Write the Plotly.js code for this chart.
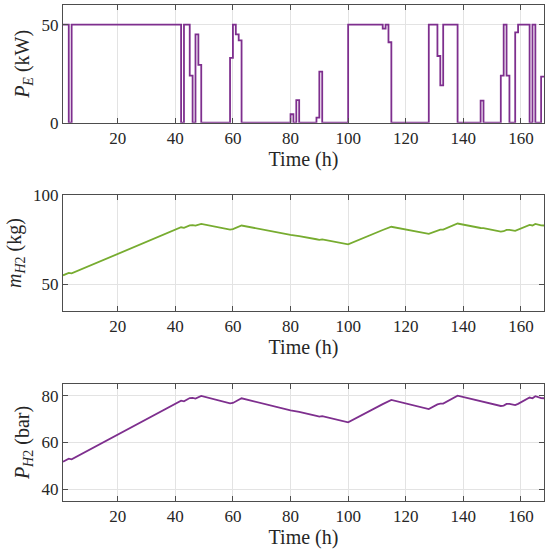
<!DOCTYPE html>
<html>
<head>
<meta charset="utf-8">
<script src="https://cdn.plot.ly/plotly-3.0.1.min.js"></script>
<style>html,body{margin:0;padding:0;background:#fff;}#chart{width:550px;height:556px;}</style>
</head>
<body>
<div id="chart"></div>
<script>
// Electrolyzer power P_E (kW), hourly values for hours 1..168 (step plot)
const PE = [50,50,0,
  50,50,50,50,50,50,50,50,50,50, 50,50,50,50,50,50,50,50,50,50,
  50,50,50,50,50,50,50,50,50,50, 50,50,50,50,50,50,50,50,
  0,50,50,24,0,45,29.5,
  0,0,0,0,0,0,0,0,0,0,
  33,50,45,42,
  0,0,0,0,0,0,0,0,0,0,0,0,0,0,0,0,0,
  4.3,0,11.5,
  0,0,0,0,0,0,
  2.6,26,
  0,0,0,0,0,0,0,0,0,
  50,50,50,50,50,50,50,50,50,50,50,50,
  48,50,41,
  0,0,0,0,0,0,0,0,0,0,0,0,0,
  50,50,50,34,19,50,50,50,50,50,
  0,0,0,0,0,0,0,0,
  11.3,
  0,0,0,0,0,0,
  24,50,24,0,0,46,50,50,50,50,0,50,0,0,23.5,23.5];
const hours = Array.from({length: PE.length}, (_, i) => i + 1);

// Hydrogen mass m_H2 (kg) and pressure P_H2 (bar) at breakpoints (h)
const tH2 = [1,3,4,42,43,45,46,47,49,59,60,63,80,81,82,83,89,90,91,100,112,113,114,115,128,131,132,133,138,146,147,153,154,155,156,158,159,163,164,165,167,168];
const mH2 = [55.0,56.4,56.1,81.9,81.6,83.0,83.1,82.8,83.8,80.6,80.9,82.9,77.6,77.4,77.1,77.0,75.2,74.9,75.1,72.3,80.4,81.0,81.7,82.2,78.2,80.2,80.6,80.6,84.0,81.5,81.4,79.5,79.7,80.4,80.5,79.9,80.5,83.2,82.9,83.8,83.0,82.9];
const pH2 = [51.8,53.1,52.8,77.9,77.6,79.0,79.1,78.8,79.9,76.7,76.9,78.9,73.7,73.5,73.2,73.1,71.4,71.1,71.3,68.6,76.4,77.0,77.7,78.2,74.3,76.3,76.6,76.6,80.0,77.5,77.4,75.6,75.8,76.5,76.5,76.0,76.5,79.2,78.9,79.8,79.0,78.9];

const xTicks = [20,40,60,80,100,120,140,160];

const FONT = 'Liberation Serif, DejaVu Serif, serif';
const purple = '#7E2F8E';
const green = '#77AC30';

function xax(anchor) {
  return {
    anchor: anchor, range: [1, 168], tickvals: xTicks,
    ticks: 'inside', ticklen: 5, tickcolor: '#4d4d4d', mirror: 'ticks',
    showline: true, linecolor: '#4d4d4d', linewidth: 1,
    showgrid: true, gridcolor: '#e3e3e3', gridwidth: 1, zeroline: false,
    tickfont: {family: FONT, size: 17, color: '#262626'},
    title: {text: 'Time (h)', font: {family: FONT, size: 20, color: '#262626'}, standoff: 4}
  };
}
function yax(anchor, domain, range, ticks, title) {
  return {
    anchor: anchor, domain: domain, range: range, tickvals: ticks,
    ticks: 'inside', ticklen: 5, tickcolor: '#4d4d4d', mirror: 'ticks',
    showline: true, linecolor: '#4d4d4d', linewidth: 1,
    showgrid: true, gridcolor: '#e3e3e3', gridwidth: 1, zeroline: false,
    tickfont: {family: FONT, size: 17, color: '#262626'},
    title: {text: title, font: {family: FONT, size: 20, color: '#262626'}, standoff: 6}
  };
}

const data = [
  {x: hours, y: PE, type: 'scatter', mode: 'lines', line: {shape: 'hv', color: purple, width: 1.8}, xaxis: 'x', yaxis: 'y'},
  {x: tH2, y: mH2, type: 'scatter', mode: 'lines', line: {color: green, width: 1.8}, xaxis: 'x2', yaxis: 'y2'},
  {x: tH2, y: pH2, type: 'scatter', mode: 'lines', line: {color: purple, width: 1.8}, xaxis: 'x3', yaxis: 'y3'}
];

const layout = {
  width: 550, height: 556,
  margin: {l: 63, r: 6, t: 5, b: 55},
  paper_bgcolor: '#fff', plot_bgcolor: '#fff',
  showlegend: false,
  xaxis: xax('y'),
  yaxis: yax('x', [0.7627, 1], [0, 60], [0, 50], '<i>P</i><sub><i>E</i></sub> (kW)'),
  xaxis2: xax('y2'),
  yaxis2: yax('x2', [0.383, 0.617], [35, 100], [50, 100], '<i>m</i><sub><i>H</i>2</sub> (kg)'),
  xaxis3: xax('y3'),
  yaxis3: yax('x3', [0, 0.2359], [35, 85], [40, 60, 80], '<i>P</i><sub><i>H</i>2</sub> (bar)')
};

Plotly.newPlot('chart', data, layout, {displayModeBar: false, staticPlot: true});
</script>
</body>
</html>
